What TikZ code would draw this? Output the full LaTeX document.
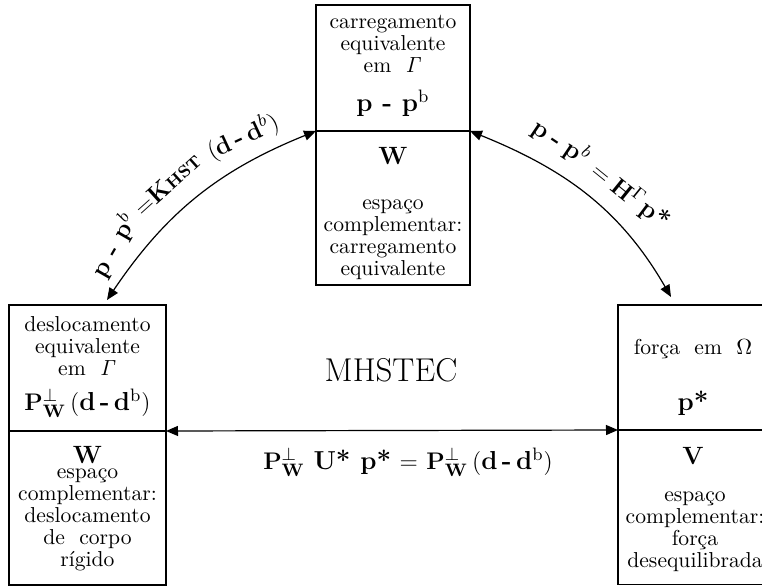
\documentclass[tikz,border=0pt]{standalone}
\usetikzlibrary{arrows.meta}
\begin{document}
\begin{tikzpicture}[x=0.5pt,y=0.5pt,
  box/.style={draw, line width=0.7pt, rectangle, inner sep=0pt, outer sep=0pt},
  txt/.style={font=\fontsize{10.8}{11}\selectfont, align=center, inner sep=0pt},
  frm/.style={font=\fontsize{13}{15}\selectfont, inner sep=0pt},
  capw/.style={font=\fontsize{12.5}{14}\selectfont\bfseries, inner sep=0pt},
  lab/.style={font=\fontsize{12.5}{15}\selectfont, inner sep=0pt},
  arr/.style={{Triangle[length=6pt,width=5pt]}-{Triangle[length=6pt,width=5pt]}, line width=0.6pt}]
\useasboundingbox (0,0) rectangle (762,586);
\clip (0,0) rectangle (762,586);
% boxes
\node[box, minimum width=77pt, minimum height=63pt] (topU) at (393,518) {};
\node[box, minimum width=77pt, minimum height=77pt] (topL) at (393,378) {};
\node[box, minimum width=78.5pt, minimum height=63pt] (leftU) at (87.5,218) {};
\node[box, minimum width=78.5pt, minimum height=77pt] (leftL) at (87.5,78) {};
\node[box, minimum width=75pt, minimum height=62.5pt] (rightU) at (693,218.5) {};
\node[box, minimum width=75pt, minimum height=77pt] (rightL) at (693,78.5) {};
% top box texts
\node[txt] (t1) at (393,542) {carregamento\\equivalente\\em\ \ $\mathit{\Gamma}$};
\node[frm] (t2) at (393,483) {\textbf{p - p}$^{\mathrm{b}}$};
\node[capw] (t3) at (393,430) {W};
\node[txt] (t4) at (393,346) {espaço\\complementar:\\carregamento\\equivalente};
% left box texts
\node[txt] (l1) at (87.5,240) {deslocamento\\equivalente\\em\ \ $\mathit{\Gamma}$};
\node[frm] (l2) at (87.5,183) {$\mathbf{P}^{\perp}_{\mathbf{W}}\,($\textbf{d\,-\,d}$^{\mathrm{b}})$};
\node[capw] (l3) at (87.5,131) {W};
\node[txt] (l4) at (87.5,66) {espaço\\complementar:\\deslocamento\\de\ \ corpo\\rígido};
% right box texts
\node[txt] (r1) at (693,237) {força\ \ em\ \ $\Omega$};
\node[frm] (r2) at (693,183) {\textbf{p*}};
\node[capw] (r3) at (693,130) {V};
\node[txt] (r4) at (695,54) {espaço\\complementar:\\força\\desequilibrada};
% center
\node[font=\fontsize{16.5}{19}\selectfont, inner sep=0pt] (mh) at (391,216) {MHSTEC};
% connectors
\coordinate (lend) at (107,286);
\coordinate (rend) at (671,289);
\draw[arr] (leftU.south east) -- (rightU.south west);
\node[frm] (bot) at (408,124) {$\mathbf{P}^{\perp}_{\mathbf{W}}$ \textbf{U* p*} $=$ $\mathbf{P}^{\perp}_{\mathbf{W}}\,($\textbf{d\,-\,d}$^{\mathrm{b}})$};
\draw[arr] (lend) to[out=56,in=202] (topU.south west);
\draw[arr] (topU.south east) to[out=338,in=120] (rend);
% curve labels
\node[lab, rotate=60] (la) at (114,340) {\textbf{p - p}$^{b}$};
\node[lab, rotate=42] (lb) at (167,402) {$=$\textbf{K{\fontsize{8.5}{10}\selectfont HST}}};
\node[lab, rotate=25] (lc) at (243,449) {$($\textbf{d\,-\,d}$^{b})$};
\node[lab, rotate=-34] (ra) at (561,444) {\textbf{p\;-\;p}$^{b}$};
\node[lab, rotate=-39] (rb) at (619,402) {$=\mathbf{H}^{\Gamma}$};
\node[lab, rotate=-37] (rc) at (655,371) {\textbf{p*}};
\end{tikzpicture}
\end{document}
